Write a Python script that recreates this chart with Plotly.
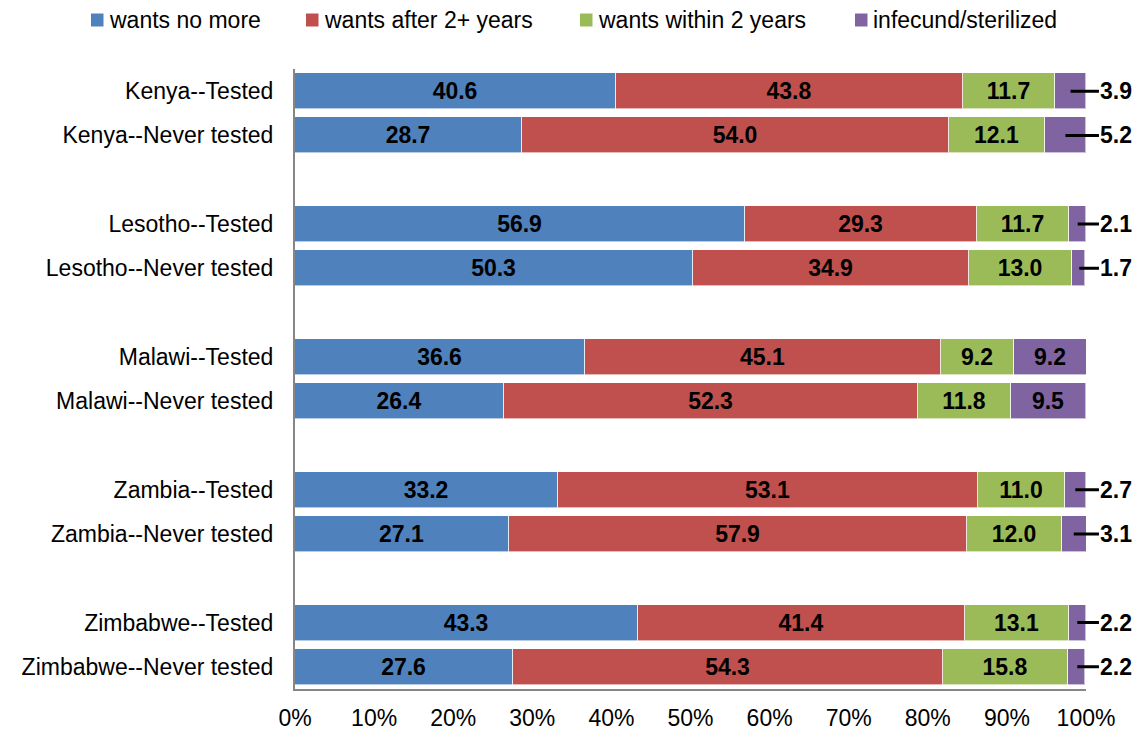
import plotly.graph_objects as go

# Survey groups (top to bottom)
countries = ["Kenya", "Lesotho", "Malawi", "Zambia", "Zimbabwe"]
statuses = ["Tested", "Never tested"]

# Fertility preference shares (%) per row, in the same order as the labels
wants_no_more = [40.6, 28.7, 56.9, 50.3, 36.6, 26.4, 33.2, 27.1, 43.3, 27.6]
wants_after_2 = [43.8, 54.0, 29.3, 34.9, 45.1, 52.3, 53.1, 57.9, 41.4, 54.3]
wants_within_2 = [11.7, 12.1, 11.7, 13.0, 9.2, 11.8, 11.0, 12.0, 13.1, 15.8]
infecund = [3.9, 5.2, 2.1, 1.7, 9.2, 9.5, 2.7, 3.1, 2.2, 2.2]

x_ticks = list(range(0, 101, 10))
x_tick_labels = [f"{t}%" for t in x_ticks]

row_labels = [f"{c}--{s}" for c in countries for s in statuses]
# one blank slot between country groups
row_pos = [i + i // 2 for i in range(len(row_labels))]

series = [
    ("wants no more", wants_no_more, "#4F81BD"),
    ("wants after 2+ years", wants_after_2, "#C0504D"),
    ("wants within 2 years", wants_within_2, "#9BBB59"),
    ("infecund/sterilized", infecund, "#8064A2"),
]

INSIDE_MIN = 6.0  # segments narrower than this get an outside callout

FONT = "Arial, Liberation Sans, sans-serif"
FS = 23
W, H = 1142, 730
ML, MR, MT, MB = 295, 56, 69, 41
PW, PH = W - ML - MR, H - MT - MB


def px_to_paper(px, py):
    return (px - ML) / PW, (H - MB - py) / PH


fig = go.Figure()
for name, vals, color in series:
    texts = [f"<b>{v:.1f}</b>" if v >= INSIDE_MIN else "" for v in vals]
    fig.add_trace(go.Bar(
        name=name, x=vals, y=row_pos, orientation="h",
        marker=dict(color=color, line=dict(color="rgba(255,255,255,0.6)", width=1)),
        text=texts, textposition="inside", insidetextanchor="middle",
        textfont=dict(size=FS, color="black", family=FONT),
        constraintext="none", width=0.81,
        hoverinfo="x+name",
    ))

# callouts for the narrow infecund/sterilized segments
for i, v in enumerate(infecund):
    if v >= INSIDE_MIN:
        continue
    fig.add_annotation(
        x=100 - v / 2, y=row_pos[i], xref="x", yref="y",
        ax=103.85, ay=row_pos[i], axref="x", ayref="y",
        text=f"<b>{v:.1f}</b>", showarrow=True, arrowhead=0,
        arrowwidth=3, arrowcolor="black",
        font=dict(size=FS, color="black", family=FONT),
    )

# legend row across the top
legend_x = [91, 306, 580, 855]
legend_y = 20
for (name, _, color), lx in zip(series, legend_x):
    x0, y0 = px_to_paper(lx, legend_y - 6.5)
    x1, y1 = px_to_paper(lx + 12.5, legend_y + 6.5)
    fig.add_shape(type="rect", xref="paper", yref="paper",
                  x0=x0, x1=x1, y0=y1, y1=y0,
                  fillcolor=color, line=dict(width=0))
    tx, ty = px_to_paper(lx + 16, legend_y)
    fig.add_annotation(x=tx, y=ty, xref="paper", yref="paper",
                       text=name, showarrow=False, xanchor="left",
                       yanchor="middle",
                       font=dict(size=FS, color="black", family=FONT))

fig.update_layout(
    barmode="stack",
    width=W, height=H,
    margin=dict(l=ML, r=MR, t=MT, b=MB, autoexpand=False),
    paper_bgcolor="white", plot_bgcolor="white",
    font=dict(family=FONT, size=FS, color="black"),
    bargap=0,
    showlegend=False,
)
fig.update_xaxes(
    range=[0, 100], tickvals=x_ticks, ticktext=x_tick_labels,
    showgrid=False, zeroline=False, showline=True, linecolor="#868686",
    linewidth=2, ticks="", ticklabelstandoff=7,
    tickfont=dict(size=FS, color="black"),
)
fig.update_yaxes(
    range=[row_pos[-1] + 0.5, -0.5], tickvals=row_pos, ticktext=row_labels,
    showgrid=False, zeroline=False, showline=True, linecolor="#868686",
    linewidth=2, ticks="", ticklabelstandoff=15,
    tickfont=dict(size=FS, color="black"),
)

fig.write_html("out.html")
